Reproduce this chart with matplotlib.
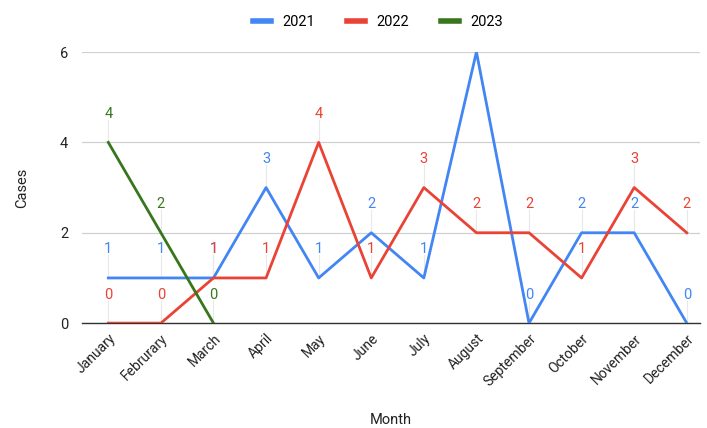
import matplotlib.pyplot as plt

plt.rcParams["font.family"] = ["Roboto", "DejaVu Sans"]

months = ["January", "Februrary", "March", "April", "May", "June", "July",
          "August", "September", "October", "November", "December"]
cases_2021 = [1, 1, 1, 3, 1, 2, 1, 6, 0, 2, 2, 0]
cases_2022 = [0, 0, 1, 1, 4, 1, 3, 2, 2, 1, 3, 2]
cases_2023 = [4, 2, 0]

colors = {"2021": "#4285F4", "2022": "#EA4335", "2023": "#38761D"}

fig = plt.figure(figsize=(7.07, 4.28), dpi=100)
ax = fig.add_axes([0.116, 0.245, 0.874, 0.6335])

x = list(range(len(months)))
series = [("2021", cases_2021), ("2022", cases_2022), ("2023", cases_2023)]
for name, vals in series:
    xs = x[:len(vals)]
    ax.plot(xs, vals, color=colors[name], lw=2, label=name, zorder=3)
    for xi, v in zip(xs, vals):
        if v >= 6:
            continue
        # small leader line from the point up to its value label
        ax.plot([xi, xi], [v, v + 0.5], color="#e8e8e8", lw=0.8, zorder=1)
        ax.text(xi, v + 0.63, str(v), color=colors[name], fontsize=10.5,
                ha="center", va="center", zorder=4)

ax.set_xlim(-0.5, 11.25)
ax.set_ylim(0, 6)
ax.set_yticks([0, 2, 4, 6])
ax.set_xticks(x)
ax.set_xticklabels(months, rotation=45, ha="right", rotation_mode="anchor",
                   fontsize=10, color="#222222")
ax.tick_params(axis="y", labelsize=10.5, labelcolor="#222222", length=0, pad=10)
ax.tick_params(axis="x", length=0, pad=6)
ax.grid(axis="y", color="#d0d0d0", lw=0.9)
ax.set_axisbelow(True)
for s in ["top", "right", "left"]:
    ax.spines[s].set_visible(False)
ax.spines["bottom"].set_color("#333333")
ax.spines["bottom"].set_linewidth(1)
ax.spines["bottom"].set_zorder(2)

ax.set_ylabel("Cases", fontsize=10.5, color="#222222", labelpad=22)
ax.set_xlabel("Month", fontsize=10.5, color="#222222", labelpad=17)

fig.legend(loc="upper center", bbox_to_anchor=(0.535, 0.995), ncol=3,
           frameon=False, fontsize=10.5, handlelength=1.2, columnspacing=2.2,
           handletextpad=0.8)
for line in fig.legends[0].get_lines():
    line.set_linewidth(4)

fig.savefig("out.png", dpi=100)
